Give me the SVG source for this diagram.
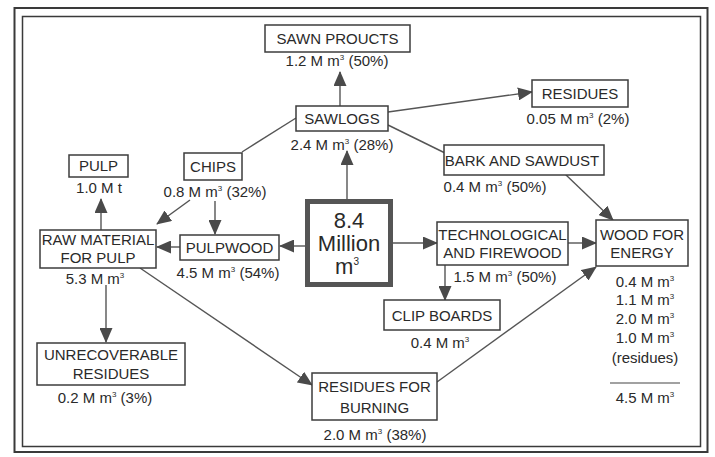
<svg xmlns="http://www.w3.org/2000/svg" width="715" height="457" viewBox="0 0 715 457">
<defs>
<marker id="ah" markerUnits="userSpaceOnUse" markerWidth="15" markerHeight="13" refX="14" refY="6.5" orient="auto">
<path d="M0,0 L15,6.5 L0,13 z" fill="#4a4a4a"/>
</marker>
<style>
text{font-family:"Liberation Sans",Arial,sans-serif;fill:#2a2a2a;text-anchor:middle;font-size:15px}
.box{fill:#fff;stroke:#3c3c3c;stroke-width:1.5}
.ln{stroke:#555;stroke-width:1.4;fill:none}
.ar{stroke:#555;stroke-width:1.4;fill:none;marker-end:url(#ah)}
.big{font-size:22px}
.sup{font-size:8px}
</style>
</defs>
<rect width="715" height="457" fill="#fff"/>
<g id="frame">
<rect x="14.5" y="8" width="693" height="444" fill="none" stroke="#3a3a3a" stroke-width="2"/>
<rect x="22.5" y="16.5" width="678" height="430" fill="none" stroke="#3a3a3a" stroke-width="1.5"/>
</g>
<g id="connectors">
<path class="ar" d="M340,106 L340,72"/>
<path class="ar" d="M388,112 L532,92"/>
<path class="ln" d="M388,125 L445,153"/>
<path class="ar" d="M565,174 L613,220"/>
<path class="ln" d="M242,152 L296,118"/>
<path class="ar" d="M190,200 L157,224"/>
<path class="ar" d="M215,201 L215,234"/>
<path class="ar" d="M101,230 L101,199"/>
<path class="ar" d="M180,247 L157,247"/>
<path class="ar" d="M305,246 L280,246"/>
<path class="ar" d="M347,199 L347,151"/>
<path class="ar" d="M393,243 L437,243"/>
<path class="ar" d="M568,243 L596,243"/>
<path class="ar" d="M445,265 L445,300"/>
<path class="ar" d="M140,268 L312,385"/>
<path class="ar" d="M437,382 L596,267"/>
<path class="ar" d="M106,285 L106,342"/>
</g>
<g id="sawn">
<rect class="box" x="265" y="25" width="145" height="27"/>
<text x="337.5" y="44">SAWN PROUCTS</text>
<text x="337" y="66">1.2 M m<tspan class="sup" dy="-6">3</tspan><tspan dy="6"> (50%)</tspan></text>
</g>
<g id="sawlogs">
<rect class="box" x="296" y="106" width="92" height="25"/>
<text x="342" y="124">SAWLOGS</text>
<text x="342" y="150">2.4 M m<tspan class="sup" dy="-6">3</tspan><tspan dy="6"> (28%)</tspan></text>
</g>
<g id="residues">
<rect class="box" x="532" y="80" width="96" height="27"/>
<text x="580" y="99">RESIDUES</text>
<text x="578" y="124">0.05 M m<tspan class="sup" dy="-6">3</tspan><tspan dy="6"> (2%)</tspan></text>
</g>
<g id="bark">
<rect class="box" x="444" y="145" width="160" height="30"/>
<text x="522" y="166">BARK AND SAWDUST</text>
<text x="495" y="192">0.4 M m<tspan class="sup" dy="-6">3</tspan><tspan dy="6"> (50%)</tspan></text>
</g>
<g id="pulp">
<rect class="box" x="69" y="155" width="59" height="22"/>
<text x="98.5" y="171">PULP</text>
<text x="99" y="193">1.0 M t</text>
</g>
<g id="chips">
<rect class="box" x="184" y="153" width="58" height="27"/>
<text x="213" y="172">CHIPS</text>
<text x="215" y="197">0.8 M m<tspan class="sup" dy="-6">3</tspan><tspan dy="6"> (32%)</tspan></text>
</g>
<g id="raw">
<rect class="box" x="40" y="230" width="116" height="38"/>
<text x="98" y="245">RAW MATERIAL</text>
<text x="98" y="263">FOR PULP</text>
<text x="95" y="284">5.3 M m<tspan class="sup" dy="-6">3</tspan></text>
</g>
<g id="pulpwood">
<rect class="box" x="180" y="235" width="99" height="25"/>
<text x="229.5" y="253">PULPWOOD</text>
<text x="228" y="278">4.5 M m<tspan class="sup" dy="-6">3</tspan><tspan dy="6"> (54%)</tspan></text>
</g>
<g id="total">
<rect x="307.5" y="201.5" width="83" height="83" fill="#fff" stroke="#555" stroke-width="5"/>
<text class="big" x="349" y="228">8.4</text>
<text class="big" x="349" y="251">Million</text>
<text class="big" x="347" y="274">m<tspan font-size="10" dy="-9">3</tspan></text>
</g>
<g id="tech">
<rect class="box" x="437" y="222" width="131" height="43"/>
<text x="502.5" y="240">TECHNOLOGICAL</text>
<text x="502.5" y="258">AND FIREWOOD</text>
<text x="505" y="282">1.5 M m<tspan class="sup" dy="-6">3</tspan><tspan dy="6"> (50%)</tspan></text>
</g>
<g id="wood">
<rect class="box" x="596" y="220" width="92" height="46"/>
<text x="642" y="240">WOOD FOR</text>
<text x="642" y="258">ENERGY</text>
<text x="645" y="287">0.4 M m<tspan class="sup" dy="-6">3</tspan></text>
<text x="645" y="305">1.1 M m<tspan class="sup" dy="-6">3</tspan></text>
<text x="645" y="324">2.0 M m<tspan class="sup" dy="-6">3</tspan></text>
<text x="645" y="343">1.0 M m<tspan class="sup" dy="-6">3</tspan></text>
<text x="645" y="363">(residues)</text>
<path d="M610,383 L680,383" stroke="#444" stroke-width="1.2"/>
<text x="645" y="403">4.5 M m<tspan class="sup" dy="-6">3</tspan></text>
</g>
<g id="clip">
<rect class="box" x="384" y="300" width="116" height="30"/>
<text x="442" y="321">CLIP BOARDS</text>
<text x="440" y="348">0.4 M m<tspan class="sup" dy="-6">3</tspan></text>
</g>
<g id="unrec">
<rect class="box" x="37" y="343" width="148" height="42"/>
<text x="111" y="360">UNRECOVERABLE</text>
<text x="111" y="379">RESIDUES</text>
<text x="105" y="403">0.2 M m<tspan class="sup" dy="-6">3</tspan><tspan dy="6"> (3%)</tspan></text>
</g>
<g id="burning">
<rect class="box" x="312" y="373" width="125" height="47"/>
<text x="374.5" y="392">RESIDUES FOR</text>
<text x="374.5" y="413">BURNING</text>
<text x="375" y="440">2.0 M m<tspan class="sup" dy="-6">3</tspan><tspan dy="6"> (38%)</tspan></text>
</g>
</svg>
